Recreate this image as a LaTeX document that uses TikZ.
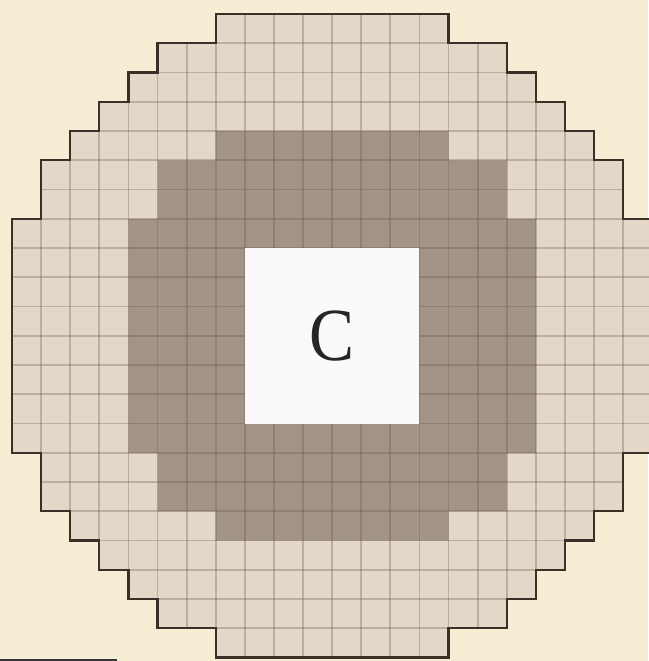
\documentclass[tikz,border=0pt]{standalone}
\usepackage{fontspec}
\newfontfamily\cfont{Liberation Serif}
\definecolor{bgcream}{HTML}{F7ECD4}
\definecolor{lightcell}{HTML}{E3D8C7}
\definecolor{darkcell}{HTML}{A39489}
\definecolor{centerwhite}{HTML}{FBF9FB}
\definecolor{gridbrown}{HTML}{6A5848}
\definecolor{outlinebrown}{HTML}{3A3028}
\tikzset{
  gridline/.style={draw=gridbrown, draw opacity=0.32, line width=1.8pt},
  outline/.style={draw=outlinebrown, line width=2.3pt, line join=miter},
  letter/.style={font=\cfont\fontsize{75}{75}\selectfont, text=black!85, inner sep=0pt}
}
\begin{document}
\begin{tikzpicture}[x=1pt,y=-1pt]
\useasboundingbox (0,0) rectangle (648,661);
\fill[bgcream] (0,0) rectangle (648,661);
\begin{scope}[shift={(12,14)}, x=29.1pt, y=-29.25pt]
  % light disc
  \def\outlinepath{(7,0) -- (15,0) -- (15,1) -- (17,1) -- (17,2) -- (18,2) -- (18,3) -- (19,3) -- (19,4) -- (20,4) -- (20,5) -- (21,5) -- (21,7) -- (22,7) -- (22,15) -- (21,15) -- (21,17) -- (20,17) -- (20,18) -- (19,18) -- (19,19) -- (18,19) -- (18,20) -- (17,20) -- (17,21) -- (15,21) -- (15,22) -- (7,22) -- (7,21) -- (5,21) -- (5,20) -- (4,20) -- (4,19) -- (3,19) -- (3,18) -- (2,18) -- (2,17) -- (1,17) -- (1,15) -- (0,15) -- (0,7) -- (1,7) -- (1,5) -- (2,5) -- (2,4) -- (3,4) -- (3,3) -- (4,3) -- (4,2) -- (5,2) -- (5,1) -- (7,1) -- cycle}
  \fill[lightcell] \outlinepath;
  % dark ring
  \fill[darkcell] (7,4) -- (15,4) -- (15,5) -- (17,5) -- (17,7) -- (18,7) -- (18,15) -- (17,15) -- (17,17) -- (15,17) -- (15,18) -- (7,18) -- (7,17) -- (5,17) -- (5,15) -- (4,15) -- (4,7) -- (5,7) -- (5,5) -- (7,5) -- cycle;
  % grid lines
  \begin{scope}
    \clip \outlinepath;
    \foreach \i in {0,...,22} {
      \draw[gridline] (\i,0) -- (\i,22);
      \draw[gridline] (0,\i) -- (22,\i);
    }
  \end{scope}
  % white centre
  \fill[centerwhite] (8,8) rectangle (14,14);
  \node[letter] (c) at (11,11) {\scalebox{0.9}[1]{C}};
  % outline
  \draw[outline] \outlinepath;
\end{scope}
\draw[draw=black!80, line width=1.5pt] (0,660) -- (117,660);
\end{tikzpicture}
\end{document}
